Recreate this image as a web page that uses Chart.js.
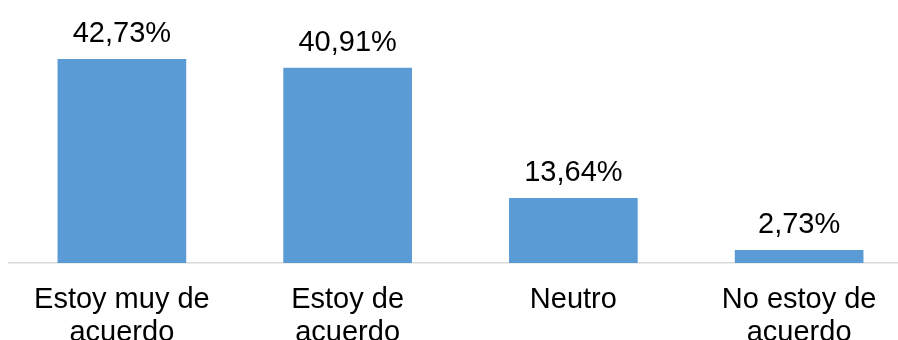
<!DOCTYPE html>
<html>
<head>
<meta charset="utf-8">
<script src="https://cdn.jsdelivr.net/npm/chart.js@4/dist/chart.umd.min.js"></script>
<style>
  html, body { margin: 0; padding: 0; background: #fff; overflow: hidden; }
  #wrap { width: 920px; height: 340px; }
</style>
</head>
<body>
<div id="wrap"><canvas id="c" width="920" height="340"></canvas></div>
<script>
// Answer categories (each split into display lines) and their shares in percent
const categories = [
  ["Estoy muy de", "acuerdo"],
  ["Estoy de", "acuerdo"],
  ["Neutro"],
  ["No estoy de", "acuerdo"]
];
const percentages = [42.73, 40.91, 13.64, 2.73];

const FONT = "'Liberation Sans', Arial, sans-serif";

function fmtPct(v) {
  return v.toFixed(2).replace('.', ',') + '%';
}

// Writes each bar's value above it
const valueLabels = {
  id: 'valueLabels',
  afterDatasetsDraw(chart) {
    const ctx = chart.ctx;
    const meta = chart.getDatasetMeta(0);
    ctx.save();
    ctx.font = '29px ' + FONT;
    ctx.fillStyle = '#000';
    ctx.textAlign = 'center';
    ctx.textBaseline = 'alphabetic';
    meta.data.forEach((bar, i) => {
      ctx.fillText(fmtPct(percentages[i]), bar.x, bar.y - 17);
    });
    ctx.restore();
  }
};

new Chart(document.getElementById('c'), {
  type: 'bar',
  data: {
    labels: categories,
    datasets: [{
      data: percentages,
      backgroundColor: '#5b9bd5',
      borderWidth: 0,
      barPercentage: 0.57,
      categoryPercentage: 1
    }]
  },
  options: {
    responsive: false,
    animation: false,
    devicePixelRatio: 1,
    layout: { padding: { left: 9, right: 8, top: 0, bottom: 0 } },
    plugins: {
      legend: { display: false },
      tooltip: { enabled: false }
    },
    scales: {
      y: {
        display: false,
        min: 0,
        max: 55.09
      },
      x: {
        grid: { display: false, drawTicks: false },
        border: { display: true, color: '#d9d9d9', width: 1.5 },
        ticks: {
          color: '#000',
          padding: 20,
          maxRotation: 0,
          autoSkip: false,
          font: { family: FONT, size: 29, lineHeight: 1.14 }
        },
        afterFit(scale) { scale.height = 77; }
      }
    }
  },
  plugins: [valueLabels]
});
</script>
</body>
</html>
